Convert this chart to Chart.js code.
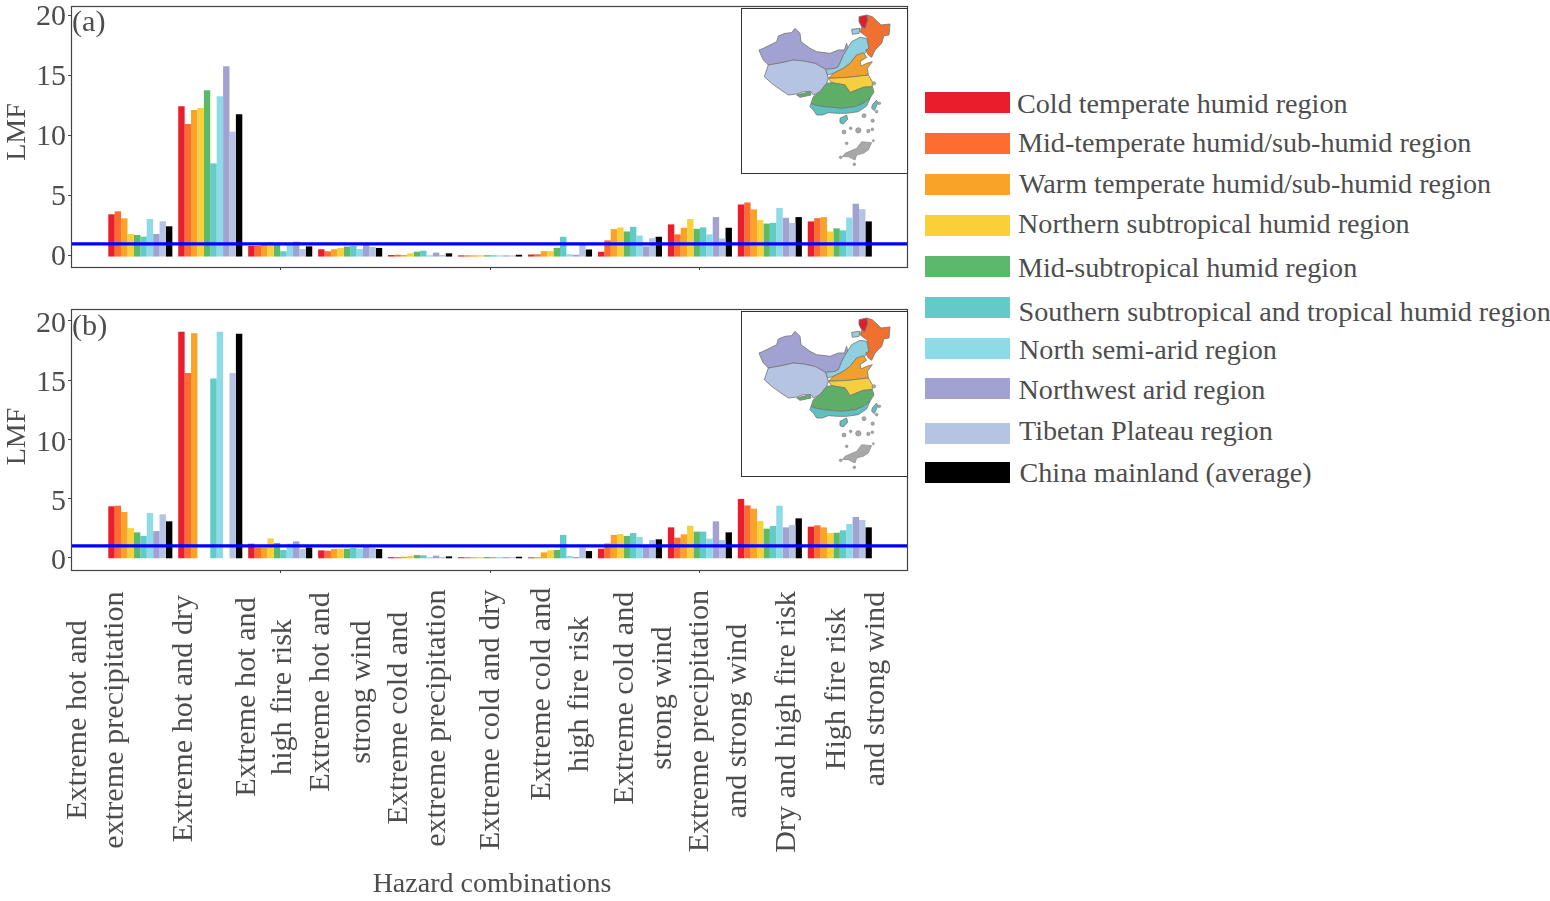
<!DOCTYPE html>
<html>
<head>
<meta charset="utf-8">
<title>LMF of hazard combinations</title>
<script src="https://cdn.jsdelivr.net/npm/chart.js@4/dist/chart.umd.min.js"></script>
<style>
html,body{margin:0;padding:0;background:#fff;width:1550px;height:901px;overflow:hidden}
canvas{position:absolute;left:0}
#c1{top:0}
#c2{top:303px}
.swatch{position:absolute;left:924.5px;width:85.5px;height:21px}
.ltext{position:absolute;font:28.15px/32px "Liberation Serif",serif;color:#4d4d4d;white-space:nowrap}
.inset{position:absolute;left:741px;width:165px;height:164px;border:1.3px solid #333;background:#fff}
.inset svg{position:absolute;left:-7.3px;top:-9.3px;width:180px;height:180px}
</style>
</head>
<body>
<canvas id="c1" width="915" height="280"></canvas>
<canvas id="c2" width="915" height="598"></canvas>
<div id="legend"></div>

<svg width="0" height="0" style="position:absolute">
<defs>
<g id="chinaMap" stroke="#777" stroke-width="2.5" stroke-linejoin="round">
<polygon fill="#A2A2D2" points="72,150 85,145 125,125 130,108 150,100 170,98 180,85 195,100 198,125 225,145 245,155 285,160 310,150 328,150 335,130 338,145 325,165 310,200 300,205 272,208 240,190 205,183 175,180 140,188 100,195 85,180 78,165"/>
<polygon fill="#B5C4E2" points="100,195 140,188 175,180 205,183 240,190 272,208 280,235 275,250 255,275 235,285 228,275 205,275 185,282 160,285 135,268 110,250 88,230"/>
<polygon fill="#8ECFE0" points="272,208 300,205 310,200 325,165 350,125 375,112 395,115 402,145 385,165 365,165 345,190 325,205 295,220 278,225"/>
<polygon fill="#8ECFE0" points="350,88 375,85 372,100 352,103"/>
<polygon fill="#F0702F" points="395,45 412,50 438,75 465,72 462,105 447,107 440,130 420,150 410,172 400,165 392,150 402,145 397,112 375,95 380,82 390,85 398,60"/>
<polygon fill="#DC1F2C" points="372,50 395,45 398,60 390,85 380,80 372,65"/>
<polygon fill="#F0A02C" points="295,220 325,205 345,190 365,165 385,158 395,172 375,185 378,198 395,190 412,185 397,205 400,225 340,232 280,235"/>
<polygon fill="#F5CE42" points="280,235 340,232 400,225 412,245 412,260 385,262 345,278 330,255 290,248"/>
<polygon fill="#5FAE68" points="290,248 330,255 345,278 385,262 412,260 417,275 405,295 385,310 360,320 320,325 290,322 265,320 240,315 228,310 235,290 255,275 275,250"/>
<polygon fill="#5FAE68" points="185,285 225,275 228,285 195,292"/>
<polygon fill="#5FC0C0" points="228,310 240,315 265,320 290,322 320,325 360,320 385,310 405,295 395,318 370,335 335,340 310,340 280,338 262,345 245,345 235,330 225,320"/>
<polygon fill="#5FC0C0" points="315,355 335,345 338,358 325,372 315,368"/>
<polygon fill="#5FC0C0" points="412,315 425,300 428,310 418,332 410,325"/>
<g fill="#a8a8a8" stroke="#888" stroke-width="2">
<polygon points="330,460 365,445 380,425 410,428 400,450 385,460 365,465 360,480 340,470 322,470"/>
<circle cx="433" cy="310" r="4"/><circle cx="425" cy="335" r="4"/><circle cx="387" cy="347" r="6"/>
<circle cx="413" cy="362" r="5"/><circle cx="347" cy="385" r="4"/><circle cx="370" cy="391" r="8"/>
<circle cx="400" cy="393" r="5"/><circle cx="412" cy="388" r="4"/><circle cx="327" cy="396" r="6"/>
<circle cx="335" cy="430" r="4"/><circle cx="415" cy="422" r="3"/><circle cx="317" cy="472" r="4"/>
<circle cx="358" cy="493" r="4"/><circle cx="417" cy="250" r="5"/>
</g>
</g>
</defs>
</svg>
<div class="inset" style="top:8px"><svg viewBox="0 0 540 540"><use href="#chinaMap"/></svg></div>
<div class="inset" style="top:311px"><svg viewBox="0 0 540 540"><use href="#chinaMap"/></svg></div>

<script>
// ---------- data ----------
const categories = [
  ["Extreme hot and","extreme precipitation"],
  ["Extreme hot and dry"],
  ["Extreme hot and","high fire risk"],
  ["Extreme hot and","strong wind"],
  ["Extreme cold and","extreme precipitation"],
  ["Extreme cold and dry"],
  ["Extreme cold and","high fire risk"],
  ["Extreme cold and","strong wind"],
  ["Extreme precipitation","and strong wind"],
  ["Dry and high fire risk"],
  ["High fire risk","and strong wind"]
];
const regions = [
  "Cold temperate humid region",
  "Mid-temperate humid/sub-humid region",
  "Warm temperate humid/sub-humid region",
  "Northern subtropical humid region",
  "Mid-subtropical humid region",
  "Southern subtropical and tropical humid region",
  "North semi-arid region",
  "Northwest arid region",
  "Tibetan Plateau region",
  "China mainland (average)"
];
const colors = ["#EA1D2D","#FE6C2F","#F9A428","#F9D038","#5CB86B","#62CBC8","#8EDBE8","#A2A2D2","#B5C4E2","#000000"];

// panel (a): one row per region, one value per hazard combination
const a_cold      = [3.47,12.47,0.83,0.56,0.08,0.05,0.12,0.35,2.63,4.29,2.88];
const a_midTemp   = [3.72,11.00,0.83,0.39,0.10,0.05,0.14,1.30,1.80,4.46,3.15];
const a_warmTemp  = [3.14,12.17,0.97,0.56,0.08,0.05,0.40,2.24,2.35,3.88,3.24];
const a_northSub  = [1.83,12.33,1.17,0.67,0.22,0.06,0.40,2.38,3.07,3.00,2.04];
const a_midSub    = [1.75,13.80,0.97,0.78,0.36,0.06,0.68,2.04,2.26,2.70,2.30];
const a_southSub  = [1.61, 7.72,0.39,0.83,0.44,0.06,1.60,2.43,2.38,2.76,2.13];
const a_semiArid  = [3.08,13.30,0.97,0.58,0.06,0.05,0.14,1.70,1.80,4.00,3.20];
const a_arid      = [1.83,15.80,1.19,0.97,0.28,0.05,0.10,0.80,3.24,3.18,4.35];
const a_tibet     = [2.89,10.36,0.58,0.75,0.08,0.05,1.04,1.49,1.46,2.76,3.90];
const a_china     = [2.47,11.80,0.80,0.67,0.22,0.10,0.54,1.60,2.35,3.24,2.88];

// panel (b)
const b_cold      = [4.34,19.07,1.18,0.62,0.05,0.04,0.03,0.76,2.56,4.96,2.62];
const b_midTemp   = [4.39,15.60,0.87,0.59,0.06,0.04,0.03,1.20,1.69,4.42,2.73];
const b_warmTemp  = [3.86,18.96,0.87,0.73,0.08,0.04,0.45,1.92,1.97,4.14,2.56];
const b_northSub  = [2.50,null,1.63,0.76,0.14,0.06,0.62,2.00,2.70,3.10,2.08];
const b_midSub    = [2.14,null,1.24,0.76,0.22,0.06,0.65,1.83,2.20,2.45,2.11];
const b_southSub  = [1.83,15.13,0.65,0.82,0.20,0.06,1.92,2.08,2.20,2.68,2.31];
const b_semiArid  = [3.77,19.07,1.18,0.76,0.06,0.05,0.14,1.75,1.60,4.39,2.85];
const b_arid      = [2.25,null,1.38,0.96,0.17,0.05,0.06,0.95,3.07,2.56,3.44];
const b_tibet     = [3.66,15.60,0.73,0.82,0.06,0.05,0.85,1.49,1.49,2.76,3.18];
const b_china     = [3.07,18.90,0.87,0.73,0.11,0.08,0.56,1.55,2.14,3.32,2.56];

const seriesA = [a_cold,a_midTemp,a_warmTemp,a_northSub,a_midSub,a_southSub,a_semiArid,a_arid,a_tibet,a_china];
const seriesB = [b_cold,b_midTemp,b_warmTemp,b_northSub,b_midSub,b_southSub,b_semiArid,b_arid,b_tibet,b_china];

const yTicks = [0,5,10,15,20];
const xTickMarks = [2,5,8];
const referenceLevel = 1;
const barBase = -0.05;

// ---------- layout (not data) ----------
const xRange = [-0.991,10.975];
const labelCentres = [-0.619,0.622,1.783,2.884,3.97,5.01,6.014,7.199,8.274,9.246,10.246];
const labelGaps = [37,0,36,41,38,0,38,38,38,0,39];
const labelMidY = [417,415.5,394,389,415,417,391,395,418,419,386]; // canvas y of each rotated label's middle
const legendTops = [92.3,133.3,174.3,215.3,256.3,297.3,338,378.3,423.3,462];
const legendBaselines = [113,152,193,233.4,277,321.5,359.5,399.8,440,482.4];
const legendLefts = [1017,1018,1019,1018,1018,1018.5,1019,1018.5,1019,1019.5];

const ink = "#4d4d4d";
const serif = '"Liberation Serif", serif';

// legend
const legendEl = document.getElementById('legend');
regions.forEach((name,i)=>{
  const s=document.createElement('div');
  s.className='swatch'; s.style.top=legendTops[i]+'px'; s.style.background=colors[i];
  legendEl.appendChild(s);
  const t=document.createElement('div');
  t.className='ltext'; t.textContent=name;
  t.style.left=legendLefts[i]+'px'; t.style.top=(legendBaselines[i]-25.5)+'px';
  legendEl.appendChild(t);
});

const framePlugin = {
  id:'frame',
  afterDatasetsDraw(chart,args,opts){
    const {ctx,chartArea:a}=chart;
    ctx.save();
    ctx.strokeStyle='#444'; ctx.lineWidth=1.2;
    ctx.strokeRect(a.left+.5,a.top+.5,a.right-a.left-1,a.bottom-a.top);
    ctx.fillStyle=ink; ctx.font='30.2px '+serif;
    ctx.textBaseline='alphabetic'; ctx.textAlign='left';
    ctx.fillText(opts.label,a.left+1,a.top+opts.dy);
    ctx.restore();
  }
};

// draws the rotated, centred tick labels of the label axis at the axis' own tick pixels
const rotatedLabels = {
  id:'rotatedLabels',
  afterDraw(chart){
    const sc=chart.scales.xLabels;
    if(!sc) return;
    const ctx=chart.ctx;
    ctx.save();
    ctx.fillStyle=ink; ctx.font='30.2px '+serif;
    ctx.textAlign='center'; ctx.textBaseline='middle';
    sc.ticks.forEach((t,i)=>{
      const lines=[].concat(t.label);
      const px=sc.getPixelForValue(t.value);
      lines.forEach((ln,j)=>{
        ctx.save();
        ctx.translate(px+(j-(lines.length-1)/2)*labelGaps[i],labelMidY[i]);
        ctx.rotate(-Math.PI/2);
        ctx.fillText(ln,0,0);
        ctx.restore();
      });
    });
    ctx.restore();
  }
};

// nudges what an axis draws (its tick labels or its title) by a few pixels
function nudge(scale,method,dx,dy){
  const key='_nudged_'+method;
  if(scale[key]) return;
  scale[key]=true;
  const orig=scale[method];
  scale[method]=function(...args){
    const c=this.ctx; c.save(); c.translate(dx,dy);
    orig.apply(this,args);
    c.restore();
  };
}

function build(id,series,label,yMin,yMax,isBottom){
  const canvas=document.getElementById(id);
  const H=canvas.height;
  const datasets=regions.map((r,i)=>({
    type:'bar',label:r,
    data:series[i].map((v,k)=>({x:k,y:v})),
    base:barBase,
    backgroundColor:colors[i],borderWidth:0,
    barPercentage:1,categoryPercentage:0.916,
    xAxisID:'x',yAxisID:'y',order:1
  }));
  datasets.push({
    type:'line',label:'LMF = 1',
    data:xRange.map(x=>({x,y:referenceLevel})),
    borderColor:'#0000ff',borderWidth:3.2,pointRadius:0,tension:0,
    xAxisID:'x',yAxisID:'y',order:-1
  });
  const zeroPad=s=>{s.paddingLeft=s.paddingRight=s.paddingTop=s.paddingBottom=0;};
  const scales={
    x:{
      type:'linear',position:'bottom',min:xRange[0],max:xRange[1],weight:0,offset:false,
      afterBuildTicks:s=>{s.ticks=xTickMarks.map(v=>({value:v}));},
      afterFit:s=>{s.height=isBottom?3:H-267;zeroPad(s);},
      grid:{display:true,offset:false,drawOnChartArea:false,drawTicks:true,tickLength:3,color:'#444',tickWidth:1},
      border:{display:false},
      ticks:{display:false}
    },
    y:{
      type:'linear',position:'left',min:yMin,max:yMax,
      afterBuildTicks:s=>{s.ticks=yTicks.map(v=>({value:v}));},
      afterFit:s=>{
        s.width=71;zeroPad(s);
        nudge(s,'drawLabels',0,isBottom?3.5:1);
        nudge(s,'drawTitle',0,isBottom?-3:-4.5);
      },
      grid:{display:true,drawOnChartArea:false,drawTicks:true,tickLength:3,color:'#444',tickWidth:1},
      border:{display:false},
      ticks:{color:ink,font:{family:serif,size:30},padding:2,autoSkip:false,maxRotation:0},
      title:{display:true,text:'LMF',color:ink,font:{family:serif,size:28},padding:{top:1,bottom:0}}
    }
  };
  if(isBottom){
    scales.xLabels={
      type:'linear',position:'bottom',min:xRange[0],max:xRange[1],weight:1,offset:false,
      afterBuildTicks:s=>{s.ticks=labelCentres.map(v=>({value:v}));},
      afterFit:s=>{s.height=H-267-3;zeroPad(s);nudge(s,'drawTitle',2.5,1);},
      grid:{display:false},border:{display:false},
      ticks:{display:false,callback:(v,i)=>categories[i]},
      title:{display:true,text:'Hazard combinations',color:ink,font:{family:serif,size:28},padding:{top:0,bottom:1}}
    };
  }
  return new Chart(canvas,{
    data:{datasets},
    options:{
      responsive:false,animation:false,devicePixelRatio:1,
      layout:{padding:{top:6,right:7,left:0,bottom:0}},
      interaction:{mode:null},
      plugins:{legend:{display:false},tooltip:{enabled:false},frame:{label,dy:isBottom?26:25}},
      scales
    },
    plugins:[framePlugin,rotatedLabels]
  });
}
build('c1',seriesA,'(a)',-0.92,20.83,false);
build('c2',seriesB,'(b)',-1.04,21.0,true);
</script>
</body>
</html>
